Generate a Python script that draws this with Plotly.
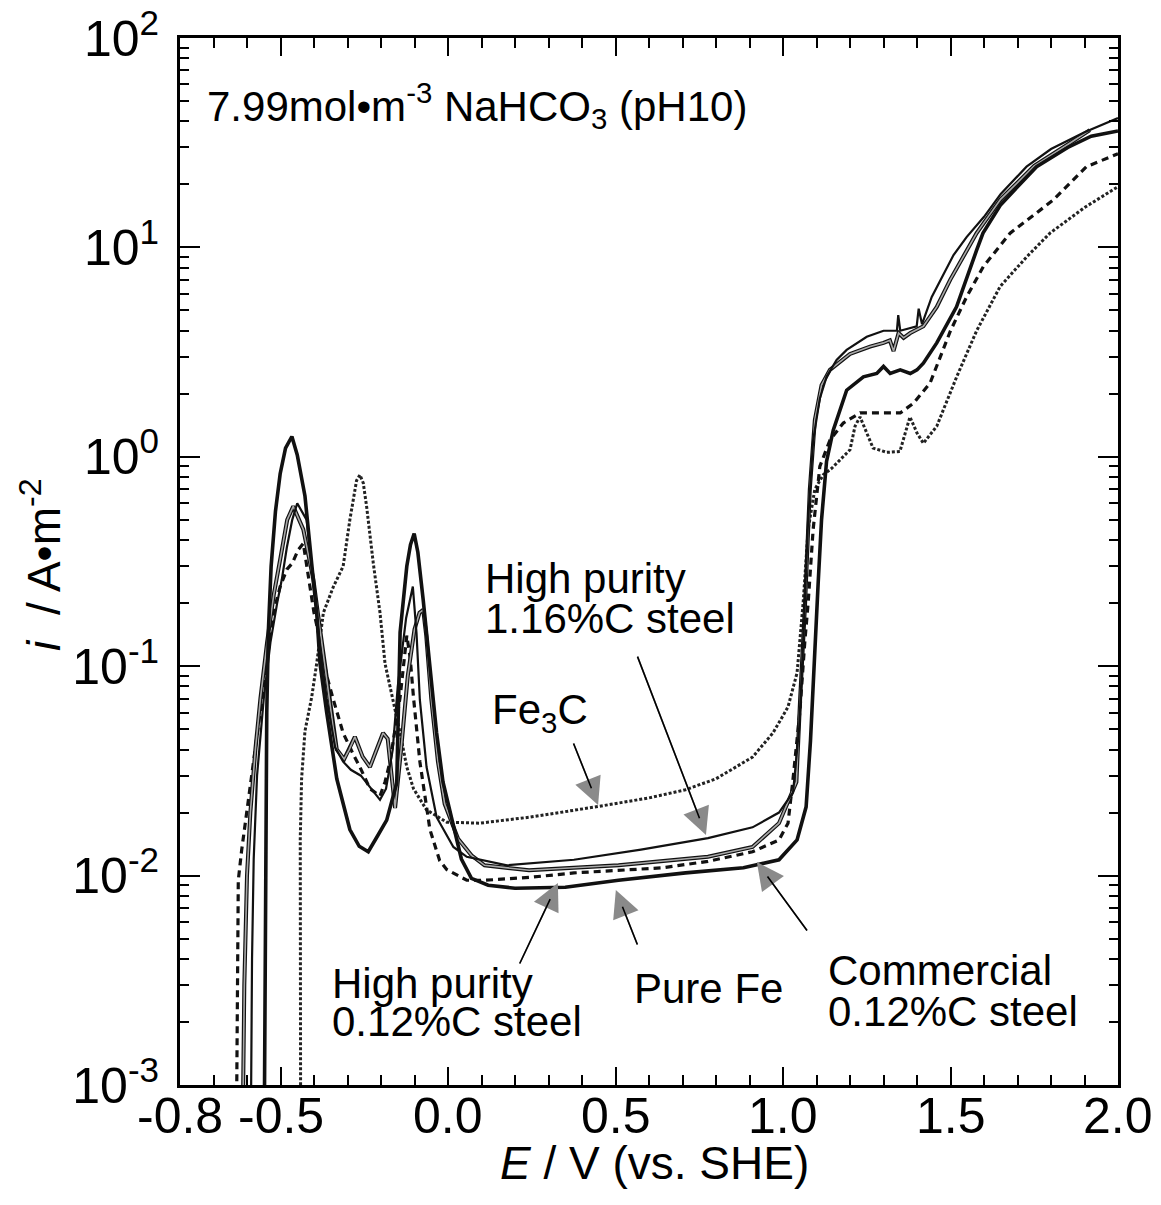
import plotly.graph_objects as go

# ---------------- data ----------------
# Pure Fe (thick solid)
E_fe = [-0.548, -0.546, -0.544, -0.541, -0.536, -0.528, -0.515, -0.501, -0.485, -0.466,
        -0.45, -0.427, -0.407, -0.392, -0.382, -0.362, -0.332, -0.293, -0.265, -0.238,
        -0.21, -0.183, -0.153, -0.143, -0.123, -0.112, -0.101, -0.09, -0.074, -0.054,
        -0.034, -0.015, 0.015, 0.04, 0.07, 0.12, 0.2, 0.35, 0.509, 0.709, 0.882, 0.988,
        1.042, 1.069, 1.082, 1.095, 1.105, 1.115, 1.13, 1.15, 1.19, 1.24, 1.28, 1.30,
        1.32, 1.35, 1.38, 1.40, 1.419, 1.459, 1.518, 1.578, 1.597, 1.65, 1.757, 1.85,
        1.92, 2.0]
i_fe = [0.0008, 0.005, 0.02, 0.06, 0.15, 0.3, 0.55, 0.83, 1.1, 1.25,
        1.02, 0.65, 0.31, 0.18, 0.103, 0.06, 0.029, 0.0166, 0.0138, 0.013,
        0.0155, 0.0184, 0.0277, 0.145, 0.3, 0.38, 0.43, 0.35, 0.207, 0.1,
        0.048, 0.028, 0.018, 0.012, 0.0097, 0.009, 0.0087, 0.0088, 0.0095, 0.0103, 0.0109, 0.0119,
        0.0148, 0.0213, 0.044, 0.133, 0.25, 0.5, 0.95, 1.34, 2.08, 2.41, 2.5, 2.7,
        2.5, 2.6, 2.5, 2.6, 2.8, 3.5, 5.2, 9.7, 11.7, 16, 24.3, 30,
        34, 36]

# High purity 1.16%C steel (thin solid)
E_hc = [-0.588, -0.585, -0.58, -0.57, -0.55, -0.53, -0.51, -0.496, -0.481, -0.465,
        -0.45, -0.437, -0.422, -0.402, -0.382, -0.362, -0.337, -0.313, -0.29, -0.26,
        -0.23, -0.203, -0.185, -0.165, -0.15, -0.125, -0.105, -0.094, -0.084, -0.064,
        -0.034, 0.016, 0.056, 0.176, 0.376, 0.576, 0.776, 0.909, 0.988, 1.03,
        1.048, 1.062, 1.075, 1.09, 1.11, 1.13, 1.16, 1.19, 1.25, 1.3,
        1.34, 1.344, 1.35, 1.399, 1.405, 1.415, 1.444, 1.479, 1.509, 1.548,
        1.6, 1.65, 1.727, 1.8, 1.9, 2.0]
i_hc = [0.0008, 0.004, 0.012, 0.03, 0.07, 0.13, 0.2, 0.26, 0.37, 0.5,
        0.6, 0.55, 0.5, 0.26, 0.124, 0.07, 0.041, 0.035, 0.032, 0.03,
        0.026, 0.023, 0.026, 0.04, 0.08, 0.17, 0.24, 0.144, 0.069, 0.033,
        0.019, 0.0137, 0.0123, 0.0112, 0.0119, 0.0133, 0.0151, 0.017, 0.02, 0.025,
        0.05, 0.15, 0.5, 1.2, 1.9, 2.41, 2.9, 3.24, 3.74, 4.0,
        4.0, 4.75, 4.0, 4.2, 5.1, 4.3, 5.8, 7.5, 9.2, 11.2,
        14, 18, 24.3, 29.5, 35.5, 41.5]

# Commercial 0.12%C steel (grey solid)
E_cm = [-0.612, -0.608, -0.6, -0.59, -0.575, -0.56, -0.54, -0.52, -0.5, -0.48,
        -0.462, -0.445, -0.432, -0.415, -0.402, -0.382, -0.362, -0.342, -0.332, -0.31,
        -0.295, -0.278, -0.255, -0.233, -0.213, -0.194, -0.18, -0.158, -0.14, -0.12,
        -0.1, -0.085, -0.074, -0.065, -0.05, -0.03, -0.01, 0.03, 0.07, 0.109,
        0.242, 0.509, 0.776, 0.909, 0.988, 1.04, 1.051, 1.066, 1.08, 1.095,
        1.115, 1.14, 1.2, 1.26, 1.3, 1.319, 1.33, 1.345, 1.36, 1.38,
        1.419, 1.459, 1.499, 1.538, 1.578, 1.65, 1.75, 1.85, 1.916]
i_cm = [0.0008, 0.003, 0.01, 0.02, 0.04, 0.07, 0.13, 0.22, 0.33, 0.5,
        0.58, 0.5, 0.45, 0.33, 0.26, 0.15, 0.086, 0.05, 0.04, 0.036,
        0.04, 0.046, 0.037, 0.033, 0.04, 0.048, 0.045, 0.021, 0.04, 0.09,
        0.15, 0.18, 0.186, 0.14, 0.07, 0.035, 0.022, 0.015, 0.0125, 0.0112,
        0.0106, 0.0112, 0.0123, 0.0137, 0.0178, 0.028, 0.069, 0.2, 0.7, 1.5,
        2.2, 2.6, 3.1, 3.36, 3.5, 3.6, 3.2, 3.9, 3.7, 3.9,
        4.2, 5.2, 7.0, 9.0, 11.7, 17, 24.5, 31, 36.3]

# High purity 0.12%C steel (dashed)
E_hl = [-0.631, -0.626, -0.616, -0.601, -0.581, -0.561, -0.541, -0.521, -0.501, -0.481,
        -0.465, -0.447, -0.432, -0.415, -0.4, -0.382, -0.362, -0.342, -0.313, -0.283,
        -0.263, -0.233, -0.203, -0.188, -0.173, -0.158, -0.143, -0.123, -0.113, -0.103,
        -0.084, -0.054, -0.025, -0.004, 0.056, 0.109, 0.242, 0.376, 0.509, 0.642,
        0.776, 0.909, 0.988, 1.015, 1.03, 1.05, 1.065, 1.075, 1.09, 1.11,
        1.14, 1.18, 1.23, 1.3, 1.35, 1.389, 1.439, 1.5, 1.548, 1.598,
        1.678, 1.806, 1.906, 2.0]
i_hl = [0.0008, 0.0095, 0.0132, 0.02, 0.035, 0.06, 0.1, 0.18, 0.24, 0.29,
        0.31, 0.36, 0.386, 0.25, 0.18, 0.133, 0.09, 0.069, 0.048, 0.038,
        0.033, 0.026, 0.024, 0.028, 0.035, 0.05, 0.071, 0.14, 0.11, 0.071,
        0.035, 0.0166, 0.0118, 0.0107, 0.0095, 0.0095, 0.0098, 0.0103, 0.0106, 0.0109,
        0.0117, 0.013, 0.0148, 0.0178, 0.029, 0.06, 0.13, 0.2, 0.45, 0.9,
        1.2, 1.45, 1.62, 1.62, 1.62, 1.8, 2.25, 4.0, 5.8, 8.1,
        11.7, 16.8, 24.3, 28]

# Fe3C (dotted)
E_fc = [-0.44, -0.441, -0.441, -0.437, -0.427, -0.407, -0.392, -0.372, -0.342, -0.313,
        -0.293, -0.273, -0.263, -0.253, -0.243, -0.223, -0.203, -0.188, -0.173, -0.158,
        -0.143, -0.123, -0.103, -0.064, -0.004, 0.095, 0.242, 0.442, 0.6, 0.709,
        0.8, 0.909, 0.97, 1.0, 1.015, 1.042, 1.06, 1.075, 1.095, 1.12,
        1.145, 1.2, 1.215, 1.23, 1.25, 1.269, 1.31, 1.349, 1.365, 1.379,
        1.40, 1.419, 1.459, 1.518, 1.578, 1.648, 1.727, 1.797, 1.9, 2.0]
i_fc = [0.0008, 0.005, 0.015, 0.029, 0.049, 0.071, 0.103, 0.18, 0.24, 0.3,
        0.5, 0.77, 0.82, 0.75, 0.58, 0.31, 0.18, 0.103, 0.08, 0.062,
        0.048, 0.033, 0.026, 0.0206, 0.018, 0.0178, 0.019, 0.0213, 0.0235, 0.0257,
        0.029, 0.0368, 0.048, 0.058, 0.064, 0.093, 0.2, 0.45, 0.7, 0.82,
        0.88, 1.08, 1.4, 1.55, 1.3, 1.1, 1.05, 1.06, 1.3, 1.55,
        1.3, 1.16, 1.4, 2.4, 4.0, 6.5, 9.0, 11.7, 15.5, 19.5]

x_tick_vals = [-0.8, -0.5, 0.0, 0.5, 1.0, 1.5, 2.0]
x_tick_text = ["-0.8", "-0.5", "0.0", "0.5", "1.0", "1.5", "2.0"]
x_minor_vals = [-0.7, -0.6, -0.4, -0.3, -0.2, -0.1, 0.1, 0.2, 0.3, 0.4,
                0.6, 0.7, 0.8, 0.9, 1.1, 1.2, 1.3, 1.4, 1.6, 1.7, 1.8, 1.9]
y_tick_vals = [1e-3, 1e-2, 1e-1, 1e0, 1e1, 1e2]
y_tick_text = ["10<sup>-3</sup>", "10<sup>-2</sup>", "10<sup>-1</sup>",
               "10<sup>0</sup>", "10<sup>1</sup>", "10<sup>2</sup>"]

FONT = "Liberation Sans, Arial, Helvetica, sans-serif"

fig = go.Figure()

fig.add_trace(go.Scatter(x=E_fc, y=i_fc, mode="lines", name="Fe3C",
                         line=dict(color="#222", width=3, dash="3px,2px")))
fig.add_trace(go.Scatter(x=E_hl, y=i_hl, mode="lines", name="High purity 0.12%C steel",
                         line=dict(color="#111", width=3.2, dash="7px,5px")))
fig.add_trace(go.Scatter(x=E_cm, y=i_cm, mode="lines", name="Commercial 0.12%C steel",
                         line=dict(color="#111", width=4)))
fig.add_trace(go.Scatter(x=E_cm, y=i_cm, mode="lines", showlegend=False,
                         line=dict(color="#a8a8a8", width=1.6)))
fig.add_trace(go.Scatter(x=E_hc, y=i_hc, mode="lines", name="High purity 1.16%C steel",
                         line=dict(color="#111", width=2.2)))
fig.add_trace(go.Scatter(x=E_fe, y=i_fe, mode="lines", name="Pure Fe",
                         line=dict(color="#111", width=3.6)))

axis_common = dict(showline=True, linewidth=3, linecolor="black", mirror="allticks",
                   ticks="inside", tickwidth=2, tickcolor="black", showgrid=False,
                   zeroline=False, automargin=False,
                   tickfont=dict(family=FONT, size=50, color="black"))

fig.update_xaxes(range=[-0.8, 2.0], tickvals=x_tick_vals, ticktext=x_tick_text,
                 ticklen=18, showticklabels=False,
                 minor=dict(tickvals=x_minor_vals, ticks="inside", ticklen=10,
                            tickwidth=1.5, tickcolor="black"),
                 **axis_common)
minor_y = [k * 10.0 ** n for n in range(-3, 2) for k in range(2, 10)]
fig.update_yaxes(type="log", range=[-3, 2], tickvals=y_tick_vals, ticktext=y_tick_text,
                 ticklen=20, ticklabelstandoff=8, ticklabeloverflow="allow",
                 minor=dict(tickvals=minor_y, ticks="inside", ticklen=9, tickwidth=1.5,
                            tickcolor="black"),
                 **axis_common)

annotations = []

# x tick labels (placed closer to the axis than plotly's default)
for v, t in zip(x_tick_vals, x_tick_text):
    annotations.append(dict(x=v, y=-0.0296, xref="x", yref="paper", text=t, showarrow=False,
                            xanchor="center", yanchor="middle",
                            font=dict(family=FONT, size=50, color="black")))

def label(text, x, logy, xanchor="left", size=42):
    annotations.append(dict(x=x, y=logy, xref="x", yref="y", text=text, showarrow=False,
                            xanchor=xanchor, yanchor="middle",
                            font=dict(family=FONT, size=size, color="black")))

def arrow(x_tip, logy_tip, x_tail, logy_tail):
    annotations.append(dict(x=x_tip, y=logy_tip, ax=x_tail, ay=logy_tail, xref="x", yref="y",
                            axref="x", ayref="y", text="", showarrow=True, arrowhead=2,
                            arrowsize=3.4, arrowwidth=1.6, arrowcolor="#8a8a8a"))
    annotations.append(dict(x=x_tip, y=logy_tip, ax=x_tail, ay=logy_tail, xref="x", yref="y",
                            axref="x", ayref="y", text="", showarrow=True, arrowhead=0,
                            arrowwidth=1.6, arrowcolor="black", standoff=18))

label("7.99mol•m<sup>-3</sup> NaHCO<sub>3</sub> (pH10)", -0.725, 1.68)
label("Fe<sub>3</sub>C", 0.125, -1.219)
label("High purity", 0.104, -0.579)
label("1.16%C steel", 0.104, -0.770)
label("High purity", -0.352, -2.513)
label("0.12%C steel", -0.352, -2.699)
label("Pure Fe", 0.549, -2.537)
label("Commercial", 1.128, -2.451)
label("0.12%C steel", 1.128, -2.647)

arrow(0.448, -1.663, 0.373, -1.362)   # Fe3C
arrow(0.770, -1.806, 0.564, -0.947)   # HP 1.16%C
arrow(0.328, -2.035, 0.212, -2.427)   # HP 0.12%C
arrow(0.501, -2.069, 0.567, -2.336)   # Pure Fe
arrow(0.922, -1.935, 1.075, -2.269)   # Commercial

# axis titles
annotations.append(dict(x=0.506, y=-0.0745, xref="paper", yref="paper",
                        text="<i>E</i> / V (vs. SHE)", showarrow=False,
                        xanchor="center", yanchor="middle",
                        font=dict(family=FONT, size=46, color="black")))
annotations.append(dict(x=-0.149, y=0.497, xref="paper", yref="paper",
                        text="<i>i</i>  / A•m<sup>-2</sup>", showarrow=False, textangle=-90,
                        xanchor="center", yanchor="middle",
                        font=dict(family=FONT, size=46, color="black")))

# page body has an 8px margin, so the figure is 8px smaller on each side
fig.update_layout(width=1153, height=1197, margin=dict(l=172, r=43, t=30, b=120),
                  plot_bgcolor="white", paper_bgcolor="white", showlegend=False,
                  annotations=annotations)

fig.write_html("out.html")
